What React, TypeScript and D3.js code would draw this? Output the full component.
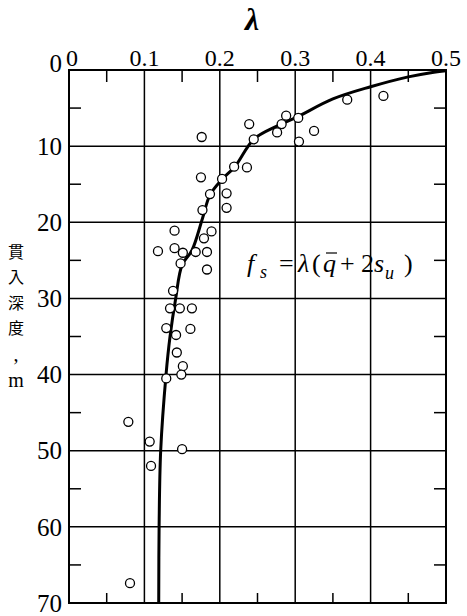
import React from "react";
import * as d3 from "d3";

const xTicks = [0, 0.1, 0.2, 0.3, 0.4, 0.5];
const xTickLabels = ["0", "0.1", "0.2", "0.3", "0.4", "0.5"];
const xMinor = [0.05, 0.15, 0.25, 0.35, 0.45];
const yTicks = [0, 10, 20, 30, 40, 50, 60, 70];
const yMinor = [5, 15, 25, 35, 45, 55, 65];

// fitted curve: [lambda, depth m]
const curvePts: [number, number][] = [
  [0.5, 0.1], [0.48, 0.35], [0.45, 0.9], [0.4, 2.2], [0.35, 3.8], [0.3, 6.3],
  [0.275, 7.4], [0.245, 9.1], [0.22, 12.7], [0.2025, 14.4], [0.187, 16.4],
  [0.177, 19.5], [0.163, 23.7], [0.15, 25.6], [0.1415, 30],
  [0.134, 35], [0.1287, 40], [0.1216, 50], [0.1195, 60], [0.119, 70],
];

// observed data: [lambda, depth m]
const obsPts: [number, number][] = [
  [0.369, 3.9], [0.417, 3.4], [0.288, 6.0], [0.304, 6.3], [0.282, 7.1],
  [0.276, 8.2], [0.325, 8.0], [0.305, 9.4], [0.239, 7.1], [0.245, 9.1],
  [0.176, 8.8], [0.219, 12.7], [0.236, 12.8], [0.203, 14.3], [0.175, 14.1],
  [0.187, 16.3], [0.209, 16.2], [0.209, 18.1], [0.177, 18.4], [0.189, 21.2],
  [0.179, 22.1], [0.14, 21.1], [0.118, 23.8], [0.14, 23.4], [0.151, 24.0],
  [0.168, 23.9], [0.183, 23.9], [0.148, 25.4], [0.183, 26.2], [0.138, 29.0],
  [0.134, 31.3], [0.147, 31.3], [0.163, 31.3], [0.129, 33.9], [0.161, 34.0],
  [0.142, 34.8], [0.143, 37.1], [0.151, 38.9], [0.149, 40.0], [0.129, 40.5],
  [0.0787, 46.2], [0.107, 48.8], [0.15, 49.8], [0.1088, 52.0], [0.0809, 67.4],
];

const yLabelChars = ["貫", "入", "深", "度", ",", "m"];

export default function App() {
  const x = d3.scaleLinear().domain([0, 0.5]).range([69, 446]);
  const y = d3.scaleLinear().domain([0, 70]).range([70, 603]);
  const line = d3
    .line<[number, number]>()
    .x((d) => x(d[0]))
    .y((d) => y(d[1]))
    .curve(d3.curveCatmullRom.alpha(0.5));
  const serif = "Liberation Serif";
  const cjk = "Noto Sans CJK TC";
  return (
    <svg
      width={467}
      height={616}
      style={{ position: "absolute", left: 0, top: 0, background: "#fff" }}
    >
      <rect x={0} y={0} width={467} height={616} fill="#fff" />
      {/* title */}
      <text x={252} y={30} fontFamily={serif} fontStyle="italic" fontWeight="bold" fontSize={32} textAnchor="middle">λ</text>
      {/* grid lines */}
      {xTicks.slice(1, -1).map((t) => (
        <line key={"gx" + t} x1={x(t)} x2={x(t)} y1={y(0)} y2={y(70)} stroke="#000" strokeWidth={1.5} />
      ))}
      {yTicks.slice(1, -1).map((t) => (
        <line key={"gy" + t} x1={x(0)} x2={x(0.5)} y1={y(t)} y2={y(t)} stroke="#000" strokeWidth={1.5} />
      ))}
      {/* minor ticks */}
      {xMinor.map((t) => (
        <g key={"mx" + t}>
          <line x1={x(t)} x2={x(t)} y1={y(0)} y2={y(0) + 12} stroke="#000" strokeWidth={1.5} />
          <line x1={x(t)} x2={x(t)} y1={y(70)} y2={y(70) - 10} stroke="#000" strokeWidth={1.5} />
        </g>
      ))}
      {yMinor.map((t) => (
        <g key={"my" + t}>
          <line x1={x(0)} x2={x(0) + 12} y1={y(t)} y2={y(t)} stroke="#000" strokeWidth={1.5} />
          <line x1={x(0.5)} x2={x(0.5) - 12} y1={y(t)} y2={y(t)} stroke="#000" strokeWidth={1.5} />
        </g>
      ))}
      {/* frame */}
      <rect x={x(0)} y={y(0)} width={x(0.5) - x(0)} height={y(70) - y(0)} fill="none" stroke="#000" strokeWidth={2} />
      {/* top tick labels */}
      {xTicks.map((t, i) => (
        <text key={"xl" + t} x={x(t) + (i === 0 ? 3 : 0)} y={66} fontFamily={serif} fontSize={24} textAnchor="middle">
          {xTickLabels[i]}
        </text>
      ))}
      {/* left tick labels */}
      {yTicks.map((t) => (
        <text key={"yl" + t} x={62} y={y(t) + (t === 0 ? -7 : 0)} dy="0.35em" fontFamily={serif} fontSize={25} textAnchor="end">
          {t}
        </text>
      ))}
      {/* y axis label */}
      {yLabelChars.map((c, i) => (
        <text
          key={"yc" + i}
          x={16}
          y={252 + i * 25.6}
          dy="0.35em"
          textAnchor="middle"
          fontFamily={i >= 4 ? serif : cjk}
          fontSize={i >= 4 ? 20 : 16}
        >
          {c}
        </text>
      ))}
      {/* fitted curve */}
      <path d={line(curvePts) || ""} fill="none" stroke="#000" strokeWidth={3} />
      {/* observations */}
      {obsPts.map((p, i) => (
        <circle key={"o" + i} cx={x(p[0])} cy={y(p[1])} r={4.5} fill="#fff" stroke="#000" strokeWidth={1.3} />
      ))}
      {/* formula */}
      <g fontFamily={serif} fontSize={26}>
        <text x={247} y={272} fontFamily={serif} fontStyle="italic">f</text>
        <text x={260} y={278} fontFamily={serif} fontStyle="italic" fontSize={18}>s</text>
        <text x={279} y={272} fontFamily={serif}>=</text>
        <text x={298} y={272} fontFamily={serif} fontStyle="italic">λ</text>
        <text x={312} y={272} fontFamily={serif}>(</text>
        <text x={323} y={272} fontFamily={serif} fontStyle="italic">q</text>
        <line x1={326} x2={337} y1={253} y2={253} stroke="#000" strokeWidth={1.2} />
        <text x={340} y={272} fontFamily={serif}>+</text>
        <text x={361} y={272} fontFamily={serif}>2</text>
        <text x={374} y={272} fontFamily={serif} fontStyle="italic">s</text>
        <text x={385} y={279} fontFamily={serif} fontStyle="italic" fontSize={18}>u</text>
        <text x={404} y={272} fontFamily={serif}>)</text>
      </g>
    </svg>
  );
}
